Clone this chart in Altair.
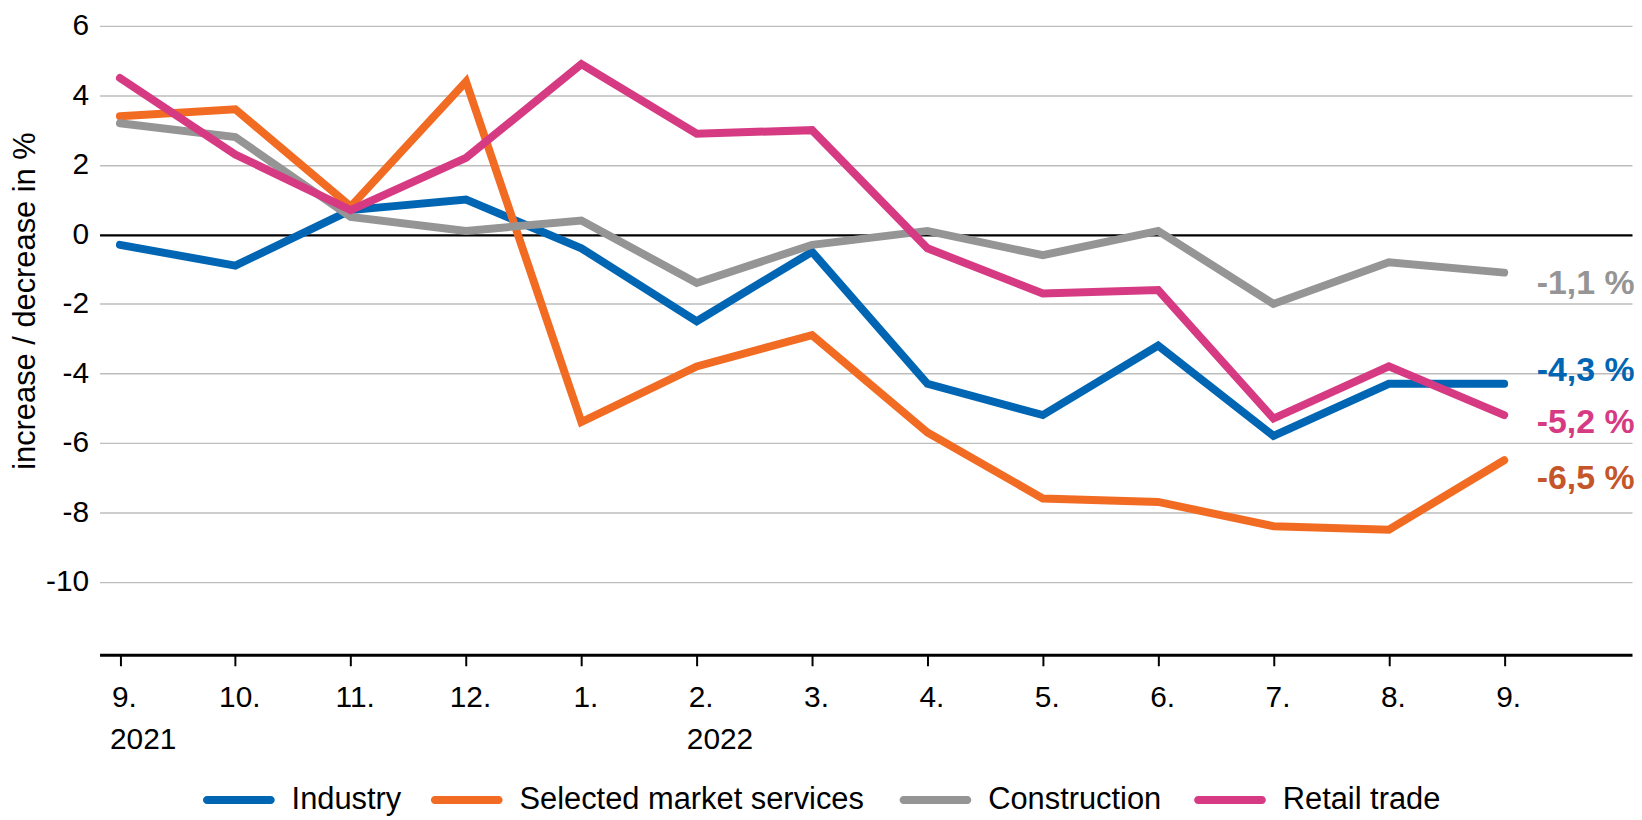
import altair as alt
import pandas as pd

# ---- data ----
months = ["9.", "10.", "11.", "12.", "1.", "2.", "3.", "4.", "5.", "6.", "7.", "8.", "9."]
years = ["2021", "2022"]
year_index = [0, 5]
series = ["Industry", "Selected market services", "Construction", "Retail trade"]
industry = [-0.3, -0.9, 0.7, 1.0, -0.4, -2.5, -0.5, -4.3, -5.2, -3.2, -5.8, -4.3, -4.3]
services = [3.4, 3.6, 0.8, 4.4, -5.4, -3.8, -2.9, -5.7, -7.6, -7.7, -8.4, -8.5, -6.5]
construction = [3.2, 2.8, 0.5, 0.1, 0.4, -1.4, -0.3, 0.1, -0.6, 0.1, -2.0, -0.8, -1.1]
retail = [4.5, 2.3, 0.7, 2.2, 4.9, 2.9, 3.0, -0.4, -1.7, -1.6, -5.3, -3.8, -5.2]
end_labels = ["-4,3 %", "-6,5 %", "-1,1 %", "-5,2 %"]

line_colors = ["#0066b3", "#f26b23", "#959595", "#d63a82"]
label_colors = ["#0066b3", "#c4562a", "#959595", "#d63a82"]
label_dy = [-13, 19, 12, 8]
legend_x = [104, 333, 804, 1100]

FONT = "Liberation Sans"
CAPSULE = ("M -0.89 -0.111 L 0.89 -0.111 A 0.111 0.111 0 0 1 0.89 0.111 "
           "L -0.89 0.111 A 0.111 0.111 0 0 1 -0.89 -0.111 Z")

values_by_series = [industry, services, construction, retail]
rows = []
for s, vals in zip(series, values_by_series):
    for i, v in enumerate(vals):
        rows.append({"series": s, "i": i, "value": v})
df = pd.DataFrame(rows)

last = len(months) - 1
end_df = pd.DataFrame({
    "series": series,
    "i": [last] * 4,
    "value": [v[-1] for v in values_by_series],
    "label": end_labels,
})
year_df = pd.DataFrame({"year": years, "i": year_index})

x_scale = alt.Scale(domain=[-0.177, 13.108], nice=False, zero=False)
y_scale = alt.Scale(domain=[-12.1, 6], nice=False, zero=False)

label_expr = "[" + ",".join(f"'{m}'" for m in months) + "][datum.value]"

x_axis = alt.Axis(
    values=list(range(len(months))), labelExpr=label_expr, title=None, grid=False,
    domainColor="black", domainWidth=3, tickColor="black", tickWidth=2, tickSize=11,
    labelPadding=17, labelFontSize=30, labelFont=FONT, labelColor="black",
    labelOffset=4, labelFlush=False, labelOverlap=False,
)
y_axis = alt.Axis(
    values=list(range(-10, 7, 2)), title="increase / decrease in %",
    labelExpr="toString(datum.value)",
    titleFontSize=31, titleFont=FONT, titleFontWeight="normal", titleColor="black",
    titleX=-74, titleY=276, titleAngle=270, titleAlign="center", titleBaseline="middle",
    labelFontSize=30, labelFont=FONT, labelColor="black", labelPadding=11,
    ticks=False, domain=False, grid=True,
    gridColor={"condition": {"test": "datum.value === 0", "value": "black"}, "value": "#bdbdbd"},
    gridWidth={"condition": {"test": "datum.value === 0", "value": 2.5}, "value": 1.4},
    labelFlush=False, labelOverlap=False,
)

line_layers = []
for s, c, lx in zip(series, line_colors, legend_x):
    line_layers.append(
        alt.Chart(df[df.series == s]).mark_line(
            strokeWidth=8, strokeCap="round", strokeJoin="miter"
        ).encode(
            x=alt.X("i:Q", scale=x_scale, axis=x_axis),
            y=alt.Y("value:Q", scale=y_scale, axis=y_axis),
            color=alt.Color(
                "series:N",
                scale=alt.Scale(domain=[s], range=[c]),
                legend=alt.Legend(
                    orient="none", legendX=lx, legendY=742, direction="horizontal",
                    title=None, symbolType=CAPSULE, symbolSize=5184,
                    symbolFillColor=c, symbolStrokeColor=c, symbolStrokeWidth=0,
                    labelFontSize=31, labelFont=FONT, labelColor="black", labelOffset=17,
                    padding=0, labelLimit=1000,
                ),
            ),
        )
    )

years_layer = alt.Chart(year_df).mark_text(
    align="left", baseline="middle", dx=-10, fontSize=30, font=FONT, color="black"
).encode(
    x=alt.X("i:Q", scale=x_scale, axis=x_axis),
    y=alt.value(718),
    text="year:N",
)

label_layers = []
for s, c, dy in zip(series, label_colors, label_dy):
    label_layers.append(
        alt.Chart(end_df[end_df.series == s]).mark_text(
            align="right", baseline="middle", dx=131, dy=dy, fontSize=34,
            fontWeight="bold", font=FONT, color=c,
        ).encode(
            x=alt.X("i:Q", scale=x_scale, axis=x_axis),
            y=alt.Y("value:Q", scale=y_scale, axis=y_axis),
            text="label:N",
        )
    )

chart = alt.layer(*line_layers, years_layer, *label_layers).resolve_scale(
    color="independent"
).resolve_legend(color="independent").properties(
    width=1540, height=632,
    padding={"left": 92, "top": 16, "right": 2, "bottom": 164},
    autosize=alt.AutoSizeParams(type="none"),
).configure_view(stroke=None)

chart.save("out.html", embed_options={"renderer": "svg", "actions": False})
